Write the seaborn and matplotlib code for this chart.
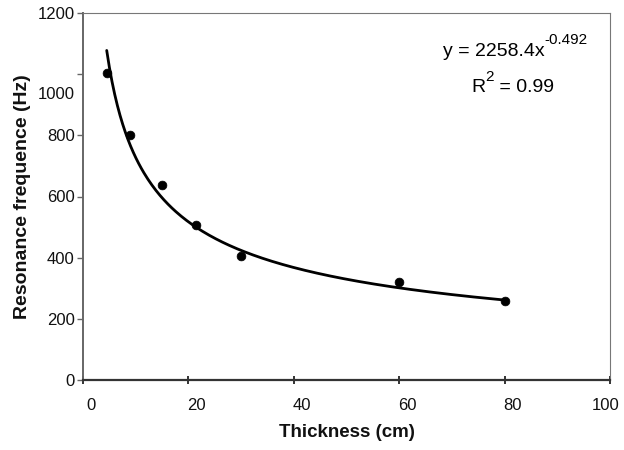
import numpy as np
import pandas as pd
import matplotlib
matplotlib.use("Agg")
import matplotlib.pyplot as plt
import matplotlib.transforms as mtransforms
import seaborn as sns

# ---- data ----
thickness = [4.5, 9, 15, 21.5, 30, 60, 80]          # cm
frequency = [1005, 802, 638, 507, 405, 320, 258]    # Hz
fit_a = 2258.4
fit_b = "-0.492"
fit_r2 = 0.99
fit_x_range = [4.5, 80]
x_ticks = [0, 20, 40, 60, 80, 100]
y_ticks = [0, 200, 400, 600, 800, 1000, 1200]

sns.set_theme(style="white")
plt.rcParams["font.family"] = ["Liberation Sans", "DejaVu Sans"]

fig = plt.figure(figsize=(6.24, 4.5), dpi=100)
ax = fig.add_axes([83/624, 1-380/450, (610-83)/624, (380-13)/450])

pts = pd.DataFrame({"Thickness": thickness, "Frequency": frequency})
xs = np.linspace(fit_x_range[0], fit_x_range[1], 300)
curve = pd.DataFrame({"Thickness": xs, "Frequency": fit_a * xs ** float(fit_b)})

sns.lineplot(data=curve, x="Thickness", y="Frequency", ax=ax, color="black", lw=2.0)
sns.scatterplot(data=pts, x="Thickness", y="Frequency", ax=ax, color="black",
                s=40, edgecolor="black", zorder=3)

ax.set_xlim(0, 100)
ax.set_ylim(0, 1200)
ax.set_xticks(x_ticks)
ax.set_yticks(y_ticks)
ax.set_xticklabels([str(v) for v in x_ticks], fontsize=12, color="#111111")
ax.set_yticklabels([str(v) for v in y_ticks], fontsize=12, color="#111111")

ax.tick_params(axis="x", bottom=True, direction="inout", length=6, width=1.4,
               color="#333333", pad=10)
ax.tick_params(axis="y", left=True, direction="out", length=4, width=1.0,
               color="#666666", pad=2)

# tick label shifts as in the scanned reference
for lab, v in zip(ax.get_xticklabels(), x_ticks):
    dx = 8 if v < 100 else -4
    lab.set_transform(lab.get_transform() + mtransforms.ScaledTranslation(dx/100, 0, fig.dpi_scale_trans))
for lab, v in zip(ax.get_yticklabels(), y_ticks):
    if v == 1000:
        lab.set_transform(lab.get_transform() + mtransforms.ScaledTranslation(0, -19/100, fig.dpi_scale_trans))

ax.spines["left"].set_color("#666666")
ax.spines["left"].set_linewidth(1.4)
ax.spines["bottom"].set_color("#333333")
ax.spines["bottom"].set_linewidth(1.6)
for side in ["top", "right"]:
    ax.spines[side].set_color("#777777")
    ax.spines[side].set_linewidth(0.8)
    ax.spines[side].set_linestyle((0, (1, 1)))

ax.set_xlabel("Thickness (cm)", fontsize=13.5, fontweight="bold", labelpad=8, color="#111111")
ax.set_ylabel("Resonance frequence (Hz)", fontsize=14, fontweight="bold", labelpad=5, color="#111111")

eq = ax.text(0.78, 0.894, f"y = {fit_a}x", transform=ax.transAxes,
             ha="center", va="center", fontsize=14, color="black")
ax.annotate(fit_b, xy=(1.0, 0.8), xycoords=eq, ha="left", va="bottom",
            fontsize=11, color="black")
r2 = ax.text(0.764, 0.796, "R", transform=ax.transAxes,
             ha="right", va="center", fontsize=14, color="black")
ax.annotate("2", xy=(1.0, 0.75), xycoords=r2, ha="left", va="bottom",
            fontsize=11, color="black")
ax.annotate(f" = {fit_r2}", xy=(1.0, 0.5), xycoords=r2, xytext=(6, 0),
            textcoords="offset points", ha="left", va="center",
            fontsize=14, color="black")

fig.savefig("out.png", dpi=100)
